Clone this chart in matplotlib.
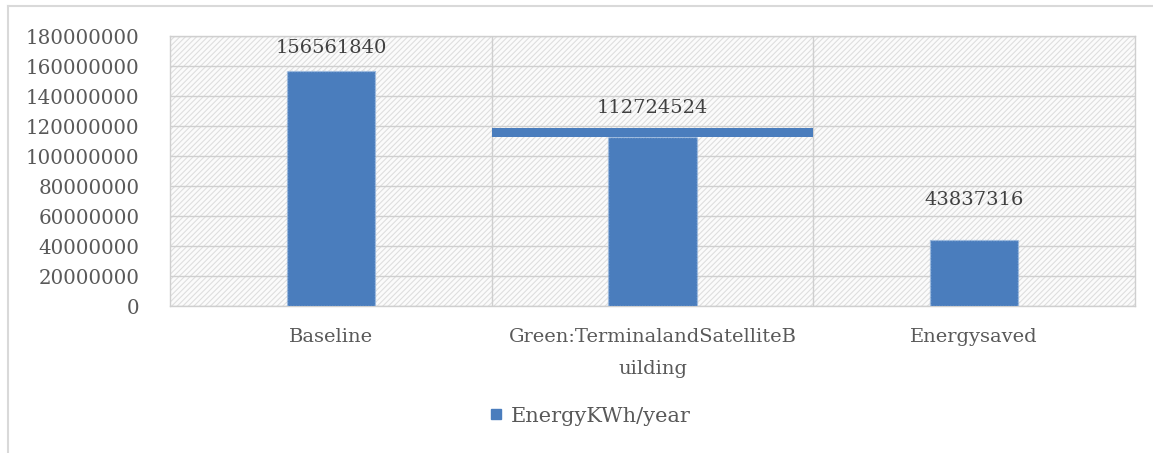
import matplotlib
matplotlib.use("Agg")
import matplotlib.pyplot as plt
from matplotlib.patches import Rectangle
from matplotlib.lines import Line2D

# Annual energy use (kWh/year)
categories = ["Baseline", "Green:TerminalandSatelliteB\nuilding", "Energysaved"]
energy_kwh = [156561840, 112724524, 43837316]
series_name = "EnergyKWh/year"
y_ticks = list(range(0, 180000001, 20000000))

# horizontal cap band drawn over the second category
cap_height = [0, 6000000, 0]

BAR_BLUE = "#4a7dbd"
TEXT_GREY = "#595959"
GRID_GREY = "#cfcfcf"

plt.rcParams["font.family"] = ["DejaVu Serif"]
plt.rcParams["hatch.color"] = "#dedede"
plt.rcParams["hatch.linewidth"] = 0.8

W, H = 1153, 453
fig = plt.figure(figsize=(W / 100, H / 100), dpi=100)
ax = fig.add_axes([170 / W, 1 - 306 / H, (1135 - 170) / W, (306 - 36) / H])

x = list(range(len(categories)))
ax.set_xlim(-0.5, len(categories) - 0.5)
ax.set_ylim(0, 180000000)

# hatched plot background
ax.add_patch(Rectangle((0, 0), 1, 1, transform=ax.transAxes, facecolor="#fbfbfb",
                       hatch="//////", edgecolor="#dedede", linewidth=0, zorder=0))

# grid
for t in y_ticks:
    ax.axhline(t, color=GRID_GREY, linewidth=1.0, zorder=1)
for b in [i + 0.5 for i in x[:-1]]:
    ax.axvline(b, color=GRID_GREY, linewidth=1.0, zorder=1)

for s in ax.spines.values():
    s.set_color(GRID_GREY)
    s.set_linewidth(1.0)

bars = ax.bar(x, energy_kwh, width=0.275, color=BAR_BLUE, edgecolor="#9dbbe0",
              linewidth=1.0, linestyle=(0, (1, 1)), zorder=3, label=series_name)

for xi, v, c in zip(x, energy_kwh, cap_height):
    if c:
        ax.bar(xi, c, bottom=v, width=1.0, color=BAR_BLUE, linewidth=0, zorder=3)

label_offsets = [17, 21, 29]
for xi, v, off in zip(x, energy_kwh, label_offsets):
    ax.annotate(f"{v}", (xi, v), xytext=(0, off), textcoords="offset points",
                ha="center", va="center", fontsize=14, color="#404040", zorder=5)

ax.set_yticks(y_ticks)
ax.set_yticklabels([str(t) for t in y_ticks], fontsize=14.3, color=TEXT_GREY)
ax.set_xticks(x)
ax.set_xticklabels(categories, fontsize=14, color=TEXT_GREY, linespacing=1.95)
ax.tick_params(axis="both", length=0)
ax.tick_params(axis="y", pad=22)
ax.tick_params(axis="x", pad=16)

leg = fig.legend(handles=[Line2D([], [], marker="s", linestyle="none", markersize=7,
                                 color=BAR_BLUE, label=series_name)],
                 loc="center", bbox_to_anchor=(588 / W, 1 - 416 / H), frameon=False,
                 fontsize=15, handletextpad=0.2, handlelength=1.0)
for t in leg.get_texts():
    t.set_color(TEXT_GREY)

# outer chart frame
fig.add_artist(Line2D([8 / W, 1], [1 - 6 / H, 1 - 6 / H], transform=fig.transFigure,
                      color="#d9d9d9", linewidth=1.5))
fig.add_artist(Line2D([8 / W, 8 / W], [0, 1 - 6 / H], transform=fig.transFigure,
                      color="#d9d9d9", linewidth=1.5))

fig.savefig("out.png", dpi=100)
